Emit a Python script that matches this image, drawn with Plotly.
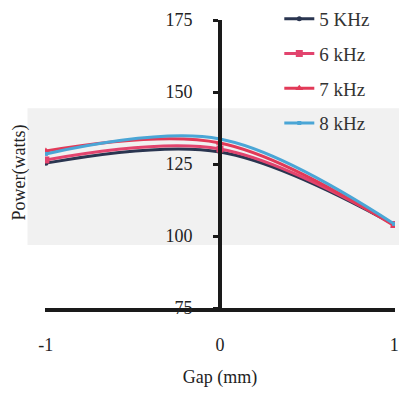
import plotly.graph_objects as go

gap = [-1, 0, 1]
series_names = ["5 KHz", "6 kHz", "7 kHz", "8 kHz"]
p5 = [125.3, 129.2, 104.0]
p6 = [126.4, 130.2, 104.0]
p7 = [129.5, 132.3, 103.6]
p8 = [128.5, 133.7, 104.2]
y_ticks = [75, 100, 125, 150, 175]
x_ticks = [-1, 0, 1]

colors = ["#2a3550", "#e2446e", "#e23a58", "#4aa6d6"]
symbols = ["circle", "square", "triangle-up", "square"]
msizes = [5, 7, 7, 4]
series = [p5, p6, p7, p8]

FONT = "Liberation Serif"
fig = go.Figure()
for name, vals, c, s, ms in zip(series_names, series, colors, symbols, msizes):
    fig.add_trace(go.Scatter(
        x=gap, y=vals, name=name, legendgroup=name,
        mode="lines+markers",
        line=dict(color=c, width=3, shape="spline", smoothing=1),
        marker=dict(color=c, symbol=s, size=ms),
    ))

fig.update_layout(
    width=399, height=395,
    margin=dict(l=45, r=4, t=20, b=87, autoexpand=False),
    paper_bgcolor="white", plot_bgcolor="rgba(0,0,0,0)",
    font=dict(family=FONT, size=18, color="#222"),
    showlegend=True,
    legend=dict(xref="container", yref="container", x=0.70, y=1.0,
                xanchor="left", yanchor="top",
                bgcolor="rgba(0,0,0,0)", tracegroupgap=7,
                font=dict(family=FONT, size=19, color="#333")),
    xaxis=dict(range=[-1.005, 1.005], tickvals=x_ticks, ticktext=[str(v) for v in x_ticks],
               showgrid=False, zeroline=False, showline=True, linecolor="#1a1a1a",
               linewidth=4, ticks="inside", ticklen=5, tickwidth=3, tickcolor="#1a1a1a",
               ticklabelstandoff=17,
               title=dict(text="Gap (mm)", standoff=18, font=dict(family=FONT, size=18))),
    yaxis=dict(range=[75, 175], tickvals=y_ticks, showgrid=False, zeroline=False,
               showline=True, linecolor="#1a1a1a", linewidth=4, ticks="outside",
               ticklen=5, tickwidth=3, tickcolor="#1a1a1a", anchor="free", position=0.5,
               ticklabelstandoff=17),
    shapes=[dict(type="rect", xref="paper", yref="paper", x0=-0.05, x1=1.02,
                 y0=0.219, y1=0.694, fillcolor="#f1f1f1", line=dict(width=0), layer="below")],
    annotations=[dict(text="Power(watts)", xref="paper", yref="paper", x=-0.072, y=0.47,
                      xanchor="center", yanchor="middle",
                      textangle=-90, showarrow=False, font=dict(family=FONT, size=18, color="#222"))],
)

fig.write_html("out.html")
